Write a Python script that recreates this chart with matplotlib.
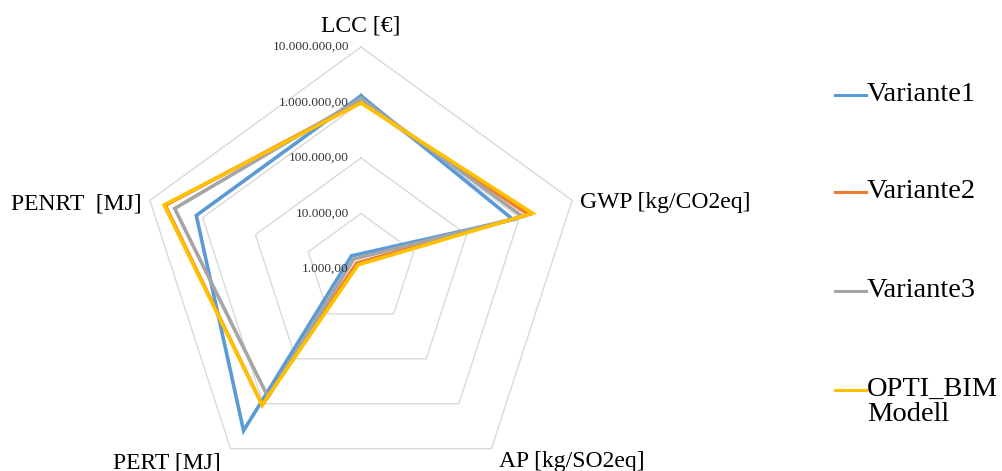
import numpy as np
import matplotlib
matplotlib.use('Agg')
import matplotlib.pyplot as plt
from matplotlib.lines import Line2D

plt.rcParams['font.family'] = ['Liberation Serif', 'DejaVu Serif']

# categories (clockwise from top)
categories = ['LCC [€]', 'GWP [kg/CO2eq]', 'AP [kg/SO2eq]', 'PERT [MJ]', 'PENRT  [MJ]']
series_names = ['Variante1', 'Variante2', 'Variante3', 'OPTI_BIM\nModell']
colors = ['#5B9BD5', '#ED7D31', '#A5A5A5', '#FFC000']

variante1 = [1320000, 760000, 510, 3980000, 1320000]
variante2 = [1050000, 1480000, 740, 1070000, 5130000]
variante3 = [1170000, 1150000, 600, 710000, 3390000]
opti_bim = [980000, 1780000, 810, 1070000, 5370000]
all_series = [variante1, variante2, variante3, opti_bim]

ring_values = [1000, 10000, 100000, 1000000, 10000000]
ring_labels = ['1.000,00', '10.000,00', '100.000,00', '1.000.000,00', '10.000.000,00']
axis_min = 1000

W, H = 1002, 471
CX, CY, DEC = 361, 269, 55.5   # centre pixel and pixels per decade

fig = plt.figure(figsize=(W / 100, H / 100), dpi=100)
ax = fig.add_axes([0, 0, 720 / W, 1])
ax.set_xlim(-CX / DEC, (720 - CX) / DEC)
ax.set_ylim((CY - H) / DEC, CY / DEC)
ax.axis('off')

n = len(categories)
angles = np.pi / 2 - np.arange(n) * 2 * np.pi / n


def to_xy(vals):
    r = np.log10(np.asarray(vals, dtype=float)) - np.log10(axis_min)
    x = r * np.cos(angles)
    y = r * np.sin(angles)
    return np.append(x, x[0]), np.append(y, y[0])


# grid pentagons
for v in ring_values[1:]:
    gx, gy = to_xy([v] * n)
    ax.plot(gx, gy, color='#D9D9D9', lw=1.0, zorder=1)

# ring labels along the top axis
for v, lab in zip(ring_values, ring_labels):
    r = np.log10(v) - np.log10(axis_min)
    ax.text(-0.22, r, lab, ha='right', va='center', fontsize=9.5, color='#333333', zorder=5)

# series
for vals, c in zip(all_series, colors):
    sx, sy = to_xy(vals)
    ax.plot(sx, sy, color=c, lw=2.6, solid_joinstyle='miter', zorder=3)

# category labels (pixel anchor, alignment)
lab_pos = [(361, 31, 'center'), (580, 208, 'left'), (499, 467, 'left'),
           (221, 468, 'right'), (142, 209, 'right')]
for lab, (px, py, ha) in zip(categories, lab_pos):
    ax.text((px - CX) / DEC, (CY - py) / DEC, lab, ha=ha, va='baseline', fontsize=17)

# legend
leg_y = [95, 192, 291, 390]
for name, c, py in zip(series_names, colors, leg_y):
    yf = 1 - py / H
    fig.add_artist(Line2D([835 / W, 866 / W], [yf, yf], color=c, lw=2.2,
                          transform=fig.transFigure))
    fig.text(867 / W, yf + 13 / H, name, ha='left', va='top', fontsize=20.5,
             linespacing=1.0)

fig.savefig('out.png', dpi=100)
